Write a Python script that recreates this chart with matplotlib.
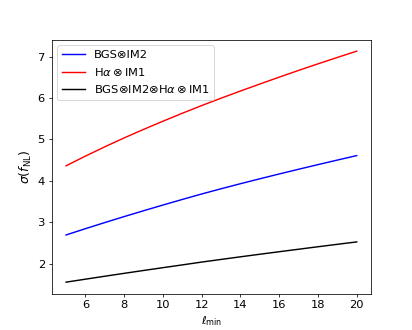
import matplotlib
matplotlib.use("Agg")
import matplotlib.pyplot as plt

ell_min = [5, 6, 7, 8, 9, 10, 11, 12, 13, 14, 15, 16, 17, 18, 19, 20]
sigma_bgs_im2 = [2.69, 2.842, 2.99, 3.134, 3.275, 3.413, 3.548, 3.68, 3.806, 3.928,
                 4.047, 4.163, 4.277, 4.389, 4.499, 4.607]
sigma_ha_im1 = [4.36, 4.595, 4.82, 5.035, 5.24, 5.438, 5.63, 5.816, 5.994, 6.167,
                6.336, 6.502, 6.665, 6.823, 6.978, 7.13]
sigma_combined = [1.55, 1.622, 1.693, 1.763, 1.832, 1.9, 1.967, 2.035, 2.099, 2.162,
                  2.224, 2.285, 2.345, 2.405, 2.464, 2.522]

labels = ["BGS⊗IM2", r"H$\alpha\otimes$IM1", r"BGS⊗IM2⊗H$\alpha\otimes$IM1"]

plt.rcParams["font.size"] = 12

fig, ax = plt.subplots(figsize=(6.0, 4.8), dpi=68.75)
ax.plot(ell_min, sigma_bgs_im2, color="blue", lw=1.5, label=labels[0])
ax.plot(ell_min, sigma_ha_im1, color="red", lw=1.5, label=labels[1])
ax.plot(ell_min, sigma_combined, color="black", lw=1.5, label=labels[2])
ax.set_xlabel(r"$\ell_{\rm min}$", fontsize=12)
ax.set_ylabel(r"$\sigma(f_{\rm NL})$", fontsize=13)
ax.tick_params(labelsize=12)
ax.set_xticks([6, 8, 10, 12, 14, 16, 18, 20])
ax.legend(fontsize=12, loc="upper left")
fig.savefig("out.png", dpi=68.75)
